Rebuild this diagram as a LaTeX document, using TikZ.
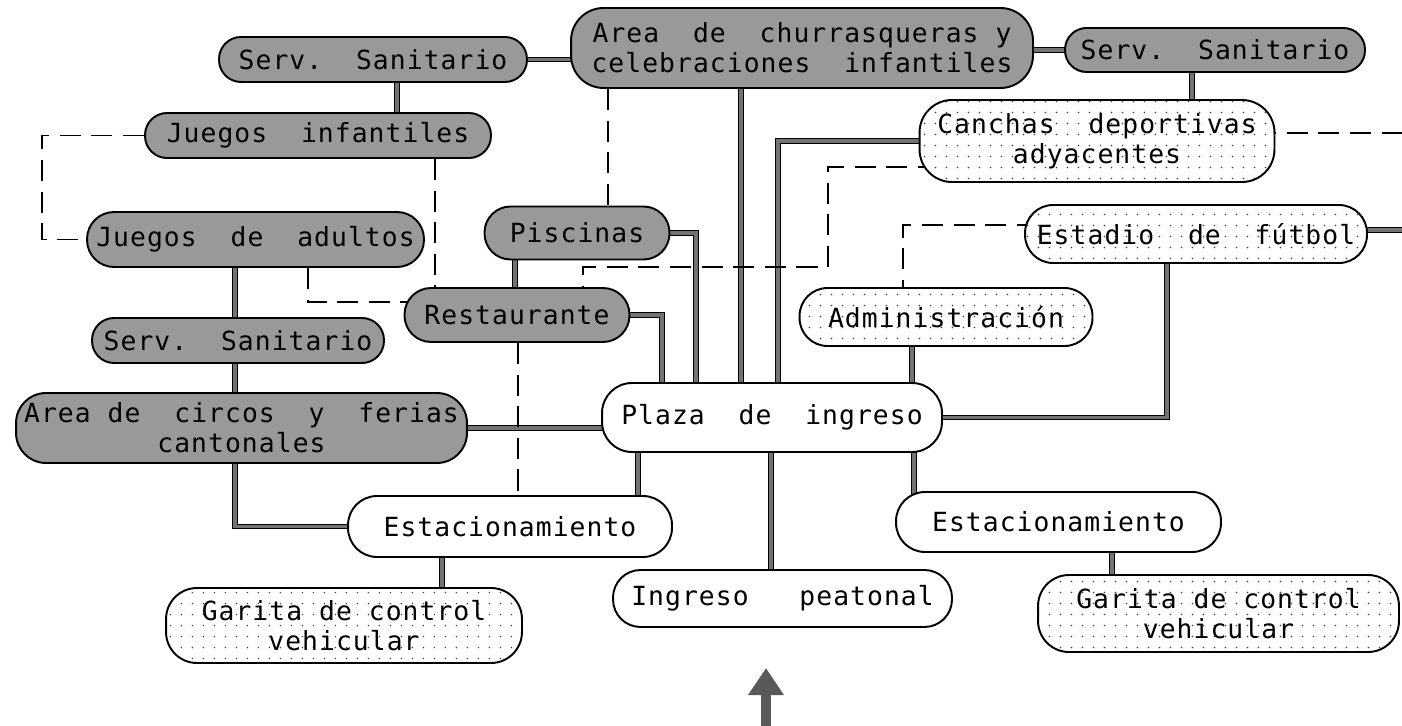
\documentclass[tikz,border=0pt]{standalone}
\usepackage{fontspec}
\newfontfamily\diagfont[LetterSpace=4]{DejaVu Sans Mono}
\usetikzlibrary{arrows.meta,patterns.meta}
\pgfdeclarelayer{bg}
\pgfsetlayers{bg,main}
\begin{document}
\begin{tikzpicture}[x=0.02cm,y=-0.02cm,
  box/.style={draw=black, line width=1.1pt, inner sep=0pt, align=center, font={\diagfont\fontsize{15}{17}\selectfont}},
  rad/.style={rounded corners=#1cm},
  darkbox/.style={box, fill=black!40},
  dotbox/.style={box, preaction={fill=white}, pattern={Dots[distance=6.5pt,radius=0.5pt]}, pattern color=black!75},
  whitebox/.style={box, fill=white},
  solidc/.style={draw=black, line width=0.7pt, double=black!55, double distance=1.8pt},
  dashc/.style={draw=black, line width=0.8pt, dash pattern=on 12pt off 6pt},
  bigarrow/.style={draw=black!65, line width=0.2cm, -{Triangle[length=0.54cm,width=0.68cm]}}
]
\useasboundingbox (0,0) rectangle (1402,726);

% nodes
\node[darkbox, rad=0.44, minimum width=6.16cm, minimum height=0.9cm] (ss1) at (373,59.5) {Serv.~~Sanitario};
\node[darkbox, rad=0.65, minimum width=9.24cm, minimum height=1.6cm] (area) at (802,48) {Area~~de~~churrasqueras~y\\celebraciones~~infantiles};
\node[darkbox, rad=0.43, minimum width=6.0cm, minimum height=0.88cm] (ss2) at (1215,50) {Serv.~~Sanitario};
\node[darkbox, rad=0.44, minimum width=6.92cm, minimum height=0.9cm] (ji) at (318,135.5) {Juegos~~infantiles};
\node[dotbox, rad=0.65, minimum width=7.1cm, minimum height=1.64cm] (canchas) at (1097,141) {Canchas~~deportivas\\adyacentes};
\node[darkbox, rad=0.54, minimum width=6.74cm, minimum height=1.1cm] (ja) at (255.5,239.5) {Juegos~~de~~adultos};
\node[darkbox, rad=0.52, minimum width=3.7cm, minimum height=1.06cm] (pisc) at (577,233) {Piscinas};
\node[dotbox, rad=0.56, minimum width=6.84cm, minimum height=1.16cm] (estadio) at (1196,234) {Estadio~~de~~fútbol};
\node[darkbox, rad=0.53, minimum width=4.5cm, minimum height=1.08cm] (rest) at (517,315) {Restaurante};
\node[dotbox, rad=0.56, minimum width=5.86cm, minimum height=1.16cm] (admin) at (946,317) {Administración};
\node[darkbox, rad=0.44, minimum width=5.84cm, minimum height=0.9cm] (ss3) at (238,340.5) {Serv.~~Sanitario};
\node[darkbox, rad=0.6, minimum width=9.02cm, minimum height=1.4cm] (circos) at (241.5,428) {Area~de~~circos~~y~~ferias\\cantonales};
\node[whitebox, rad=0.6, minimum width=6.8cm, minimum height=1.38cm] (plaza) at (772,417.5) {Plaza~~de~~ingreso};
\node[whitebox, rad=0.58, minimum width=6.48cm, minimum height=1.22cm] (estL) at (510,526.5) {Estacionamiento};
\node[whitebox, rad=0.58, minimum width=6.5cm, minimum height=1.2cm] (estR) at (1058.5,522) {Estacionamiento};
\node[whitebox, rad=0.55, minimum width=6.78cm, minimum height=1.14cm] (ingreso) at (782.5,598.5) {Ingreso~~~peatonal};
\node[dotbox, rad=0.62, minimum width=7.12cm, minimum height=1.5cm] (garitaL) at (344,625.5) {Garita de control\\vehicular};
\node[dotbox, rad=0.62, minimum width=7.22cm, minimum height=1.54cm] (garitaR) at (1218.5,613.5) {Garita de control\\vehicular};

\coordinate (estadioEnd) at (1402,230);
\coordinate (canchasEnd) at (1402,133);
\coordinate (arrowTail) at (766,730);
\coordinate (arrowTip) at (766,668);

\begin{pgfonlayer}{bg}
% solid connectors
\draw[solidc] (ss1.center) -- (ss1.center -| area.center);
\draw[solidc] (area.center |- ss2.center) -- (ss2.center);
\draw[solidc] (397,0 |- ss1.center) -- (397,0 |- ji.center);
\draw[solidc] (1192,0 |- ss2.center) -- (1192,0 |- canchas.center);
\draw[solidc] (741,0 |- area.center) -- (741,0 |- plaza.center);
\draw[solidc] (canchas.center) -- (778,0 |- canchas.center) -- (778,0 |- plaza.center);
\draw[solidc] (pisc.center) -- (696,0 |- pisc.center) -- (696,0 |- plaza.center);
\draw[solidc] (rest.center) -- (662,0 |- rest.center) -- (662,0 |- plaza.center);
\draw[solidc] (515,0 |- pisc.center) -- (515,0 |- rest.center);
\draw[solidc] (1167,0 |- estadio.center) -- (1167,0 |- plaza.center) -- (plaza.center);
\draw[solidc] (912,0 |- admin.center) -- (912,0 |- plaza.center);
\draw[solidc] (235,0 |- ja.center) -- (235,0 |- ss3.center);
\draw[solidc] (235,0 |- ss3.center) -- (235,0 |- circos.center);
\draw[solidc] (circos.center) -- (circos.center -| plaza.center);
\draw[solidc] (235,0 |- circos.center) -- (235,0 |- estL.center) -- (estL.center);
\draw[solidc] (638,0 |- plaza.center) -- (638,0 |- estL.center);
\draw[solidc] (771,0 |- plaza.center) -- (771,0 |- ingreso.center);
\draw[solidc] (914,0 |- plaza.center) -- (914,0 |- estR.center);
\draw[solidc] (442,0 |- estL.center) -- (442,0 |- garitaL.center);
\draw[solidc] (1112,0 |- estR.center) -- (1112,0 |- garitaR.center);
\draw[solidc] (estadio.center |- estadioEnd) -- (estadioEnd);

% dashed connectors
\draw[dashc] (ji.west) -- (42,0 |- ji.west) -- (42,0 |- ja.west) -- (ja.west);
\draw[dashc] (435,0 |- ji.south) -- (435,0 |- rest.north);
\draw[dashc] (308,0 |- ja.south) -- (308,302) -- (rest.center |- 0,302);
\draw[dashc] (608,0 |- area.south) -- (608,0 |- pisc.north);
\draw[dashc] (518,0 |- rest.south) -- (518,0 |- estL.north);
\draw[dashc] (canchas.center |- 0,167) -- (828,167) -- (828,267) -- (583,267) -- (583,0 |- rest.center);
\draw[dashc] (estadio.center |- 0,225) -- (903,225) -- (903,0 |- admin.center);
\draw[dashc] (canchas.center |- canchasEnd) -- (canchasEnd);
\end{pgfonlayer}

% entrance arrow
\draw[bigarrow] (arrowTail) -- (arrowTip);
\end{tikzpicture}
\end{document}
